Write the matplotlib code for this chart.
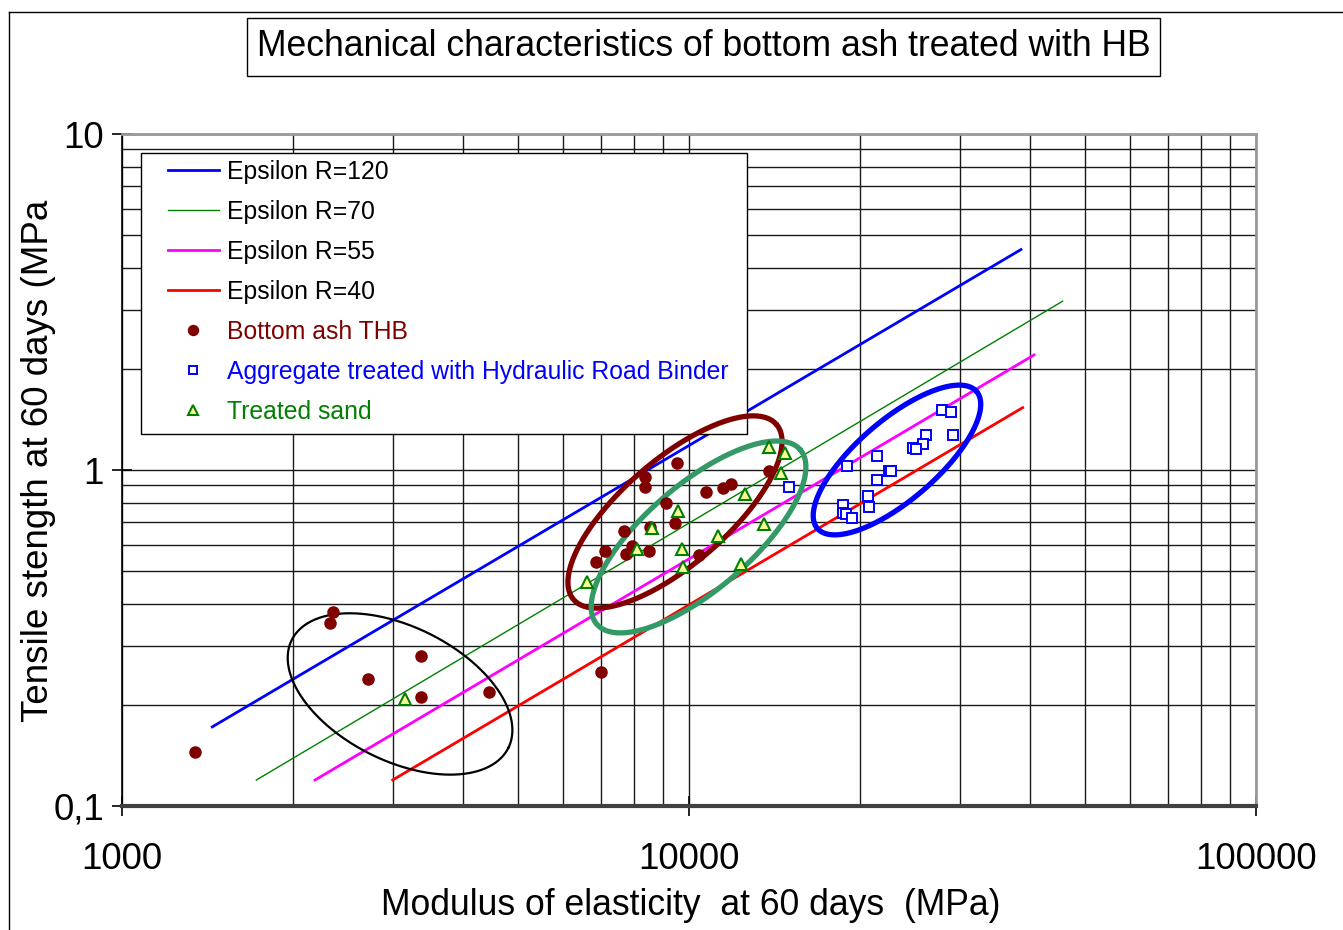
import numpy as np
import matplotlib
matplotlib.use("Agg")
import matplotlib.pyplot as plt
from matplotlib.lines import Line2D
from matplotlib.patches import Rectangle
from matplotlib.ticker import LogLocator, NullFormatter

plt.rcParams['font.family'] = ['Liberation Sans', 'DejaVu Sans']

# ---------------- data ----------------
ash_E = [1345, 2355, 2324, 2713, 3364, 3364, 4444, 6996,
         9537, 8363, 8363, 10715, 11468, 11858, 13822, 9108, 9461,
         7682, 8535, 7110, 7923, 7743, 8502, 6855, 10402]
ash_R = [0.145, 0.378, 0.350, 0.239, 0.280, 0.211, 0.219, 0.251,
         1.047, 0.955, 0.892, 0.858, 0.882, 0.906, 0.995, 0.796, 0.697,
         0.658, 0.678, 0.575, 0.595, 0.562, 0.574, 0.531, 0.558]

agg_E = [27910, 28980, 26180, 29210, 25830, 24860, 25100, 21480, 19000,
         22560, 22750, 21470, 20660, 20800, 18670, 18720, 18900, 19410, 15030]
agg_R = [1.509, 1.485, 1.271, 1.271, 1.192, 1.165, 1.155, 1.100, 1.030,
         0.995, 0.990, 0.934, 0.839, 0.774, 0.788, 0.746, 0.740, 0.718, 0.892]

sand_E = [13860, 14790, 14510, 12560, 9575, 8603, 13570, 11263, 8085,
          9732, 9768, 12336, 6617, 3156]
sand_R = [1.173, 1.121, 0.982, 0.848, 0.755, 0.674, 0.691, 0.637, 0.582,
          0.582, 0.513, 0.525, 0.465, 0.208]

eps_labels = ["Epsilon R=120", "Epsilon R=70", "Epsilon R=55", "Epsilon R=40"]
eps_E = [[1443, 38500], [1726, 45600], [2190, 40600], [3002, 38770]]
eps_R = [[0.172, 4.53], [0.1195, 3.18], [0.1195, 2.20], [0.1195, 1.533]]
eps_colors = ['#0000ff', '#008000', '#ff00ff', '#ff0000']
eps_lw = [2.0, 1.0, 2.0, 2.0]

# ellipses: center (E, R), semi-axes (reference px), angle (deg)
ell_center = [(3093, 0.2155), (9447, 0.750), (10395, 0.632), (23270, 1.071)]
ell_axes = [(121, 67), (134, 52.4), (134, 52.7), (105, 40)]
ell_angle = [-26.5, 40.8, 40.6, 40.7]
ell_colors = ['black', '#800000', '#339966', '#0000ff']
ell_lw = [1.6, 3.8, 3.8, 3.8]

xticks = [1000, 10000, 100000]
xticklabels = ['1000', '10000', '100000']
yticks = [0.1, 1, 10]
yticklabels = ['0,1', '1', '10']

# ---------------- figure ----------------
W, H = 1343, 930
AW, AH = 1134, 672
fig = plt.figure(figsize=(W / 100, H / 100), dpi=100)
ax = fig.add_axes([122 / W, 1 - 806 / H, AW / W, AH / H])
ax.set_xscale('log')
ax.set_yscale('log')
ax.set_xlim(1000, 100000)
ax.set_ylim(0.1, 10)

ax.xaxis.set_minor_locator(LogLocator(base=10, subs=range(2, 10)))
ax.yaxis.set_minor_locator(LogLocator(base=10, subs=range(2, 10)))
ax.xaxis.set_minor_formatter(NullFormatter())
ax.yaxis.set_minor_formatter(NullFormatter())
ax.set_xticks(xticks)
ax.set_xticklabels(xticklabels)
ax.set_yticks(yticks)
ax.set_yticklabels(yticklabels)
ax.grid(which='both', color='#1a1a1a', lw=1.0, zorder=0)
ax.set_axisbelow(True)
ax.tick_params(which='minor', length=0)
ax.tick_params(which='major', direction='inout', length=14, width=1.2,
               labelsize=26.5, colors='black')
ax.tick_params(axis='x', which='major', pad=19)
ax.tick_params(axis='y', which='major', pad=6)

ax.spines['left'].set_color('black')
ax.spines['left'].set_linewidth(1.2)
ax.spines['bottom'].set_color('#404040')
ax.spines['bottom'].set_linewidth(3)
ax.spines['top'].set_color('#999999')
ax.spines['top'].set_linewidth(2)
ax.spines['right'].set_color('#999999')
ax.spines['right'].set_linewidth(2)

handles = []
for lab, e, r, c, lw in zip(eps_labels, eps_E, eps_R, eps_colors, eps_lw):
    h, = ax.plot(e, r, color=c, lw=lw, label=lab, zorder=3)
    handles.append(h)

# ellipses (drawn above the legend box, below the markers)
px_dec_x, px_dec_y = 567.0, 336.0
t = np.linspace(0, 2 * np.pi, 500)
for (cx, cy), (a, b), ang, c, lw in zip(ell_center, ell_axes, ell_angle, ell_colors, ell_lw):
    th = np.deg2rad(ang)
    dx = a * np.cos(th) * np.cos(t) - b * np.sin(th) * np.sin(t)
    dy = a * np.sin(th) * np.cos(t) + b * np.cos(th) * np.sin(t)
    lx = np.log10(cx) + dx / px_dec_x
    ly = np.log10(cy) + dy / px_dec_y
    ax.plot(10 ** lx, 10 ** ly, color=c, lw=lw, zorder=11, solid_capstyle='round')

h1, = ax.plot(ash_E, ash_R, 'o', ls='none', color='#800000', ms=8,
              mec='#800000', label='Bottom ash THB', zorder=12)
h2, = ax.plot(agg_E, agg_R, 's', ls='none', mfc='white', mec='#0000ff', mew=1.4,
              ms=7, label='Aggregate treated with Hydraulic Road Binder', zorder=12)
h3, = ax.plot(sand_E, sand_R, '^', ls='none', mfc='#ffff99', mec='#008000', mew=1.5,
              ms=8.5, label='Treated sand', zorder=13)
handles += [h1, h2, h3]

# legend frame (drawn separately for exact placement)
ax.add_patch(Rectangle(((141 - 122) / AW, (806 - 434) / AH), (747 - 141) / AW, (434 - 153) / AH,
                       transform=ax.transAxes, facecolor='white', edgecolor='black',
                       lw=1.0, zorder=9))
leg = ax.legend(handles=handles, loc='upper left',
                bbox_to_anchor=((168 - 122) / AW, (806 - 160) / AH),
                borderaxespad=0, frameon=False,
                fontsize=17.8, handlelength=2.05, handletextpad=0.33,
                labelspacing=0.645, borderpad=0.0, markerscale=0.9)
leg.set_zorder(10)
text_colors = ['black', 'black', 'black', 'black', '#800000', '#0000ff', '#008000']
for txt, c in zip(leg.get_texts(), text_colors):
    txt.set_color(c)

ax.set_xlabel('Modulus of elasticity  at 60 days  (MPa)', fontsize=25.6)
ax.xaxis.set_label_coords((691 - 122) / AW, (806 - 905) / AH)
ax.set_ylabel('Tensile stength at 60 days (MPa', fontsize=26.5)
ax.yaxis.set_label_coords((39 - 122) / AW, (806 - 461) / AH)
ax.xaxis.label.set_va('center')
ax.yaxis.label.set_va('center')

# title box
fig.patches.append(Rectangle((247 / W, 1 - 76 / H), 913 / W, 58 / H,
                             transform=fig.transFigure, fill=False,
                             edgecolor='black', lw=1.0))
fig.text(703.5 / W, 1 - 46 / H, 'Mechanical characteristics of bottom ash treated with HB',
         ha='center', va='center', fontsize=25.6)

# outer border lines
fig.add_artist(Line2D([9 / W, 9 / W], [0, 1 - 12 / H], transform=fig.transFigure,
                      color='black', lw=1.0))
fig.add_artist(Line2D([9 / W, 1], [1 - 12 / H, 1 - 12 / H], transform=fig.transFigure,
                      color='black', lw=1.0))

fig.savefig('out.png', dpi=100)
